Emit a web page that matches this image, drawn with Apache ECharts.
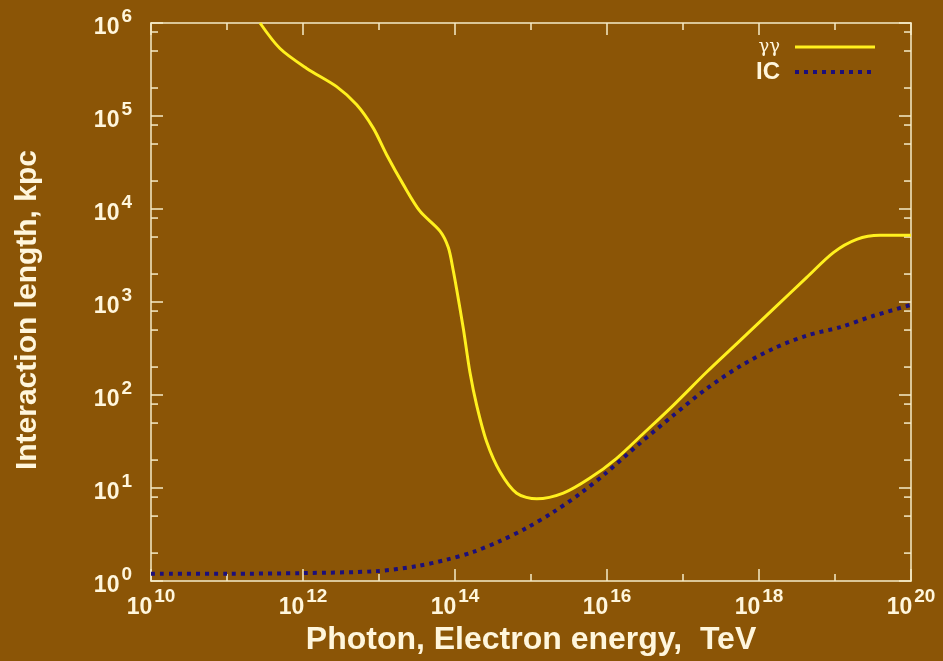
<!DOCTYPE html>
<html><head><meta charset="utf-8">
<script src="https://cdn.jsdelivr.net/npm/echarts@6/dist/echarts.min.js"></script>
<style>html,body{margin:0;padding:0;background:#8B5506;}#c{width:943px;height:661px;}</style>
</head><body><div id="c"></div>
<script>
// gamma-gamma interaction length (kpc) vs photon energy (TeV)
const gammaEnergy = [2.72e11, 4.98e11, 1.12e12, 2.77e12, 5.09e12, 8.41e12, 1.26e13, 2.09e13, 3.46e13, 6.35e13, 8.17e13, 9.51e13, 1.05e14, 1.29e14, 1.57e14, 1.93e14, 2.61e14, 3.91e14, 6.49e14, 1.19e15, 2.66e15, 5.97e15, 1.34e16, 3.01e16, 7.45e16, 2.05e17, 5.62e17, 1.54e18, 4.25e18, 9.51e18, 1.93e19, 3.91e19, 1e20];
const gammaLength = [1.0e6, 5.32e5, 3.25e5, 2.07e5, 1.32e5, 7.41e4, 3.84e4, 1.83e4, 9.48e3, 5.79e3, 3.85e3, 2.16e3, 1.38e3, 514, 177, 77.6, 31.5, 15.0, 8.81, 7.66, 8.81, 12.8, 20.9, 38.6, 77.6, 177, 385, 841, 1.84e3, 3.40e3, 4.72e3, 5.21e3, 5.21e3];
// inverse Compton interaction length (kpc) vs electron energy (TeV)
const icEnergy = [1e10, 1e11, 1e12, 9.33e12, 3.16e13, 7.76e13, 1.74e14, 3.89e14, 8.71e14, 1.95e15, 4.42e15, 1e16, 2.69e16, 7.41e16, 2.04e17, 5.62e17, 1.55e18, 4.27e18, 1.17e19, 3.16e19, 1e20];
const icLength = [1.20, 1.20, 1.22, 1.28, 1.45, 1.70, 2.06, 2.69, 3.72, 5.50, 8.71, 14.8, 30.2, 60.3, 117, 204, 316, 437, 537, 708, 933];
// axis ticks
const xMin = 1e10, xMax = 1e20;
const yMin = 1, yMax = 1e6;
const yMinorDecades = [1, 10, 100, 1000, 1e4, 1e5];
const yMinorMultipliers = [2, 5, 8];
const seriesNames = ['γγ', 'IC'];

const bg = '#8B5506';
const fg = '#FFF6DC';
const axisColor = '#F6ECC8';
const font = 'Liberation Sans';

const yMinorTicks = [];
yMinorDecades.forEach(d => yMinorMultipliers.forEach(m => yMinorTicks.push([xMin, d * m])));

function powLabel(v) {
  return '{b|10}{s|' + Math.round(Math.log10(v)) + '}';
}
const labelRich = {
  b: {fontFamily: font, fontWeight: 'bold', fontSize: 23, color: fg, lineHeight: 32, verticalAlign: 'bottom'},
  s: {fontFamily: font, fontWeight: 'bold', fontSize: 19, color: fg, lineHeight: 19, verticalAlign: 'top', padding: [0, 0, 0, 2]}
};
const lineSt = {color: axisColor, width: 1.5};

const chart = echarts.init(document.getElementById('c'), null, {renderer: 'canvas'});
chart.setOption({
  backgroundColor: bg,
  animation: false,
  grid: {left: 151, right: 32, top: 23, bottom: 78, containLabel: false},
  legend: {
    orient: 'vertical', right: 61, top: 33, align: 'right',
    itemWidth: 80, itemHeight: 14, itemGap: 4,
    data: seriesNames,
    itemStyle: {opacity: 0},
    lineStyle: {width: 'inherit', type: 'inherit'},
    formatter: n => n === 'γγ' ? '{g|γγ}' : '{i|IC}',
    textStyle: {
      color: fg,
      rich: {
        g: {fontFamily: 'DejaVu Serif', fontSize: 18, color: fg, width: 28, align: 'right', lineHeight: 20, padding: [0, 10, 0, 0]},
        i: {fontFamily: font, fontWeight: 'bold', fontSize: 24, color: fg, width: 28, align: 'right', lineHeight: 20, padding: [0, 10, 0, 0]}
      }
    }
  },
  xAxis: [
    {type: 'log', logBase: 100, min: xMin, max: xMax, position: 'bottom',
     axisLine: {lineStyle: lineSt}, axisTick: {inside: true, length: 12, lineStyle: lineSt},
     axisLabel: {formatter: powLabel, rich: labelRich, margin: 6, color: fg},
     splitLine: {show: false},
     name: 'Photon, Electron energy,  TeV', nameLocation: 'middle', nameGap: 35,
     nameTextStyle: {color: fg, fontFamily: font, fontWeight: 'bold', fontSize: 32}},
    {type: 'log', logBase: 10, min: xMin, max: xMax, interval: 1, splitNumber: 10, position: 'bottom',
     axisLine: {show: false}, axisTick: {inside: true, length: 7, lineStyle: lineSt},
     axisLabel: {show: false}, splitLine: {show: false}},
    {type: 'log', logBase: 100, min: xMin, max: xMax, position: 'top',
     axisLine: {lineStyle: lineSt}, axisTick: {inside: true, length: 12, lineStyle: lineSt},
     axisLabel: {show: false}, splitLine: {show: false}},
    {type: 'log', logBase: 10, min: xMin, max: xMax, interval: 1, splitNumber: 10, position: 'top',
     axisLine: {show: false}, axisTick: {inside: true, length: 7, lineStyle: lineSt},
     axisLabel: {show: false}, splitLine: {show: false}}
  ],
  yAxis: [
    {type: 'log', logBase: 10, min: yMin, max: yMax, position: 'left',
     axisLine: {lineStyle: lineSt}, axisTick: {inside: true, length: 12, lineStyle: lineSt},
     axisLabel: {formatter: powLabel, rich: labelRich, margin: 19, color: fg},
     splitLine: {show: false},
     name: 'Interaction length, kpc', nameLocation: 'middle', nameGap: 108, nameRotate: 90,
     nameTextStyle: {color: fg, fontFamily: font, fontWeight: 'bold', fontSize: 30, padding: [0, 16, 0, 0]}},
    {type: 'log', logBase: 10, min: yMin, max: yMax, position: 'right',
     axisLine: {lineStyle: lineSt}, axisTick: {inside: true, length: 12, lineStyle: lineSt},
     axisLabel: {show: false}, splitLine: {show: false}}
  ],
  series: [
    {name: 'γγ', type: 'line', xAxisIndex: 0, yAxisIndex: 0,
     data: gammaEnergy.map((e, i) => [e, gammaLength[i]]),
     showSymbol: false, symbol: 'none', smooth: 0.3,
     lineStyle: {color: '#FFF01E', width: 3}, itemStyle: {color: '#FFF01E'}, z: 3},
    {name: 'IC', type: 'line', xAxisIndex: 0, yAxisIndex: 0,
     data: icEnergy.map((e, i) => [e, icLength[i]]),
     showSymbol: false, symbol: 'none', smooth: 0.3,
     lineStyle: {color: '#1C0F7A', width: 4, type: [4, 5], cap: 'butt'}, itemStyle: {color: '#1C0F7A'}, z: 2},
    {type: 'custom', xAxisIndex: 0, yAxisIndex: 0, silent: true, clip: false,
     data: yMinorTicks,
     renderItem: (params, api) => {
       const v = api.value(1);
       const pL = api.coord([xMin, v]);
       const pR = api.coord([xMax, v]);
       return {type: 'group', children: [
         {type: 'line', shape: {x1: pL[0], y1: pL[1], x2: pL[0] + 7, y2: pL[1]}, style: {stroke: axisColor, lineWidth: 1.5}},
         {type: 'line', shape: {x1: pR[0], y1: pR[1], x2: pR[0] - 7, y2: pR[1]}, style: {stroke: axisColor, lineWidth: 1.5}}
       ]};
     }}
  ]
});
</script>
</body></html>
